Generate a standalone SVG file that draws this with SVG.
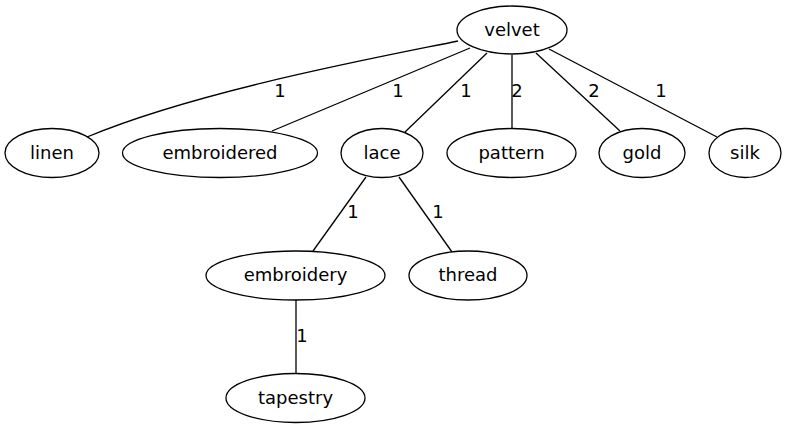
<svg xmlns="http://www.w3.org/2000/svg" width="787" height="429" viewBox="0 0 787 429">
<style>
ellipse{fill:#fff;stroke:#000;stroke-width:1.3}
text{font-family:"DejaVu Sans",sans-serif;font-size:18px;fill:#000;text-anchor:middle}
.e path{fill:none;stroke:#000;stroke-width:1.3}
</style>
<rect width="787" height="429" fill="#fff"/>
<g class="e" id="connectors">
<path d="M458,41 C380,57 200,90 87,137"/>
<path d="M470,48 L272,131"/>
<path d="M487,53 L405,132"/>
<path d="M512,55 L512,128"/>
<path d="M536,53 L620,131"/>
<path d="M549,49 L717,137"/>
<path d="M366,177 L313,251"/>
<path d="M399,177 L452,252"/>
<path d="M296,300 L296,373"/>
<text x="280" y="97">1</text>
<text x="398" y="97">1</text>
<text x="466" y="97">1</text>
<text x="517" y="97">2</text>
<text x="594" y="97">2</text>
<text x="661" y="97">1</text>
<text x="353" y="218">1</text>
<text x="438" y="218">1</text>
<text x="302" y="342">1</text>
</g>
<g id="velvet"><ellipse cx="512" cy="30" rx="55" ry="24"/><text x="512" y="36">velvet</text></g>
<g id="linen"><ellipse cx="52" cy="153" rx="47" ry="24.5"/><text x="52" y="159">linen</text></g>
<g id="embroidered"><ellipse cx="220" cy="153" rx="97.5" ry="24.5"/><text x="220" y="159">embroidered</text></g>
<g id="lace"><ellipse cx="382" cy="153" rx="41" ry="24.5"/><text x="382" y="159">lace</text></g>
<g id="pattern"><ellipse cx="511.5" cy="153" rx="64.5" ry="24.5"/><text x="511.5" y="159">pattern</text></g>
<g id="gold"><ellipse cx="642" cy="153" rx="43" ry="24.5"/><text x="642" y="159">gold</text></g>
<g id="silk"><ellipse cx="745" cy="153" rx="36" ry="24.5"/><text x="745" y="159">silk</text></g>
<g id="embroidery"><ellipse cx="295.5" cy="275.5" rx="89.5" ry="24.5"/><text x="295.5" y="281">embroidery</text></g>
<g id="thread"><ellipse cx="468" cy="275.5" rx="59" ry="24.5"/><text x="468" y="281">thread</text></g>
<g id="tapestry"><ellipse cx="295.5" cy="398" rx="69.5" ry="24.5"/><text x="295.5" y="404">tapestry</text></g>
</svg>
